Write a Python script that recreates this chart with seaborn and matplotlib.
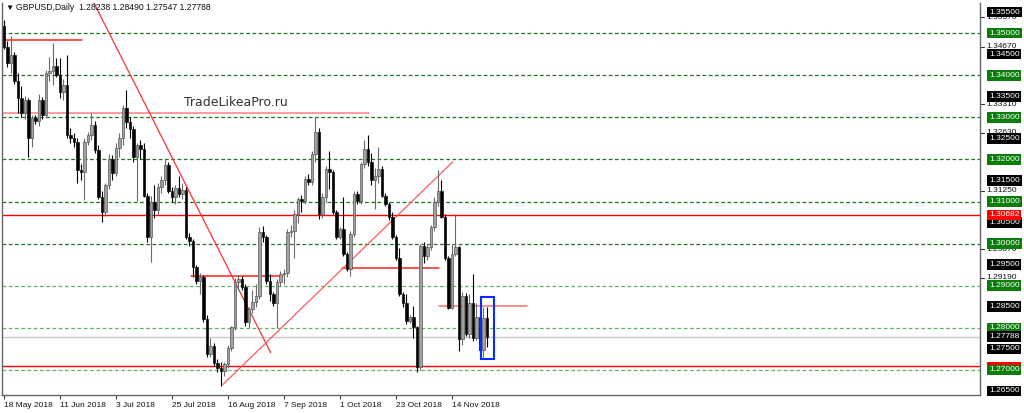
import matplotlib
matplotlib.use('Agg')
import numpy as np
import pandas as pd
import matplotlib.pyplot as plt
import seaborn as sns
from matplotlib.patches import Rectangle
from matplotlib.transforms import blended_transform_factory

sns.set_theme(style='white')
plt.rcParams['font.family'] = ['Liberation Sans', 'DejaVu Sans']

# GBPUSD daily candles (18 May 2018 onwards, weekdays)
opens = [1.3516, 1.3468, 1.3430, 1.3448, 1.3385, 1.3345, 1.3310, 1.3340, 1.3250, 1.3298,
         1.3292, 1.3340, 1.3305, 1.3405, 1.3409, 1.3421, 1.3401, 1.3360, 1.3377, 1.3258,
         1.3250, 1.3242, 1.3175, 1.3171, 1.3242, 1.3258, 1.3282, 1.3222, 1.3111, 1.3075,
         1.3139, 1.3200, 1.3168, 1.3226, 1.3250, 1.3321, 1.3289, 1.3273, 1.3205, 1.3233,
         1.3225, 1.3114, 1.3015, 1.3100, 1.3079, 1.3134, 1.3150, 1.3186, 1.3126, 1.3110,
         1.3132, 1.3118, 1.3128, 1.3015, 1.3007, 1.2944, 1.2912, 1.2920, 1.2821, 1.2737,
         1.2757, 1.2717, 1.2705, 1.2698, 1.2713, 1.2753, 1.2801, 1.2908, 1.2915, 1.2897,
         1.2813, 1.2845, 1.2862, 1.2875, 1.3027, 1.3015, 1.2912, 1.2880, 1.2860, 1.2908,
         1.2928, 1.2930, 1.3027, 1.3031, 1.3071, 1.3106, 1.3102, 1.3154, 1.3146, 1.3213,
         1.3265, 1.3071, 1.3110, 1.3178, 1.3170, 1.3075, 1.3015, 1.3035, 1.2975, 1.2940,
         1.3023, 1.3118, 1.3102, 1.3190, 1.3225, 1.3194, 1.3150, 1.3160, 1.3178, 1.3114,
         1.3094, 1.3063, 1.3015, 1.2967, 1.2880, 1.2860, 1.2817, 1.2825, 1.2801, 1.2706,
         1.2995, 1.2970, 1.2991, 1.3039, 1.3100, 1.3126, 1.3063, 1.2967, 1.2848, 1.2975,
         1.2991, 1.2773, 1.2876, 1.2785, 1.2860, 1.2777, 1.2826, 1.2747, 1.28238]
highs = [1.3530, 1.3482, 1.3492, 1.3455, 1.3405, 1.3375, 1.3350, 1.3345, 1.3305, 1.3305,
         1.3355, 1.3348, 1.3413, 1.3444, 1.3476, 1.3440, 1.3440, 1.3390, 1.3448, 1.3275,
         1.3262, 1.3250, 1.3190, 1.3250, 1.3265, 1.3310, 1.3290, 1.3235, 1.3125, 1.3145,
         1.3212, 1.3210, 1.3240, 1.3262, 1.3330, 1.3364, 1.3300, 1.3280, 1.3240, 1.3245,
         1.3240, 1.3120, 1.3112, 1.3140, 1.3145, 1.3160, 1.3202, 1.3195, 1.3135, 1.3140,
         1.3160, 1.3145, 1.3135, 1.3025, 1.3012, 1.2950, 1.2930, 1.2925, 1.2830, 1.2777,
         1.2765, 1.2725, 1.2718, 1.2720, 1.2760, 1.2805, 1.2918, 1.2925, 1.2922, 1.2905,
         1.2850, 1.2890, 1.2905, 1.3039, 1.3043, 1.3020, 1.2928, 1.2885, 1.2915, 1.2935,
         1.2940, 1.3035, 1.3045, 1.3080, 1.3110, 1.3115, 1.3160, 1.3165, 1.3220, 1.3301,
         1.3275, 1.3120, 1.3185, 1.3221, 1.3175, 1.3080, 1.3040, 1.3110, 1.2980, 1.3030,
         1.3125, 1.3125, 1.3195, 1.3245, 1.3257, 1.3215, 1.3180, 1.3229, 1.3185, 1.3120,
         1.3100, 1.3075, 1.3020, 1.2990, 1.2885, 1.2880, 1.2830, 1.2852, 1.2805, 1.3000,
         1.3005, 1.3000, 1.3045, 1.3110, 1.3174, 1.3150, 1.3070, 1.2970, 1.2999, 1.3071,
         1.2995, 1.2885, 1.2882, 1.2880, 1.2928, 1.2860, 1.2835, 1.2850, 1.28490]
lows = [1.3462, 1.3420, 1.3405, 1.3378, 1.3310, 1.3300, 1.3295, 1.3205, 1.3230, 1.3285,
        1.3280, 1.3295, 1.3300, 1.3385, 1.3377, 1.3395, 1.3345, 1.3340, 1.3250, 1.3240,
        1.3230, 1.3143, 1.3150, 1.3103, 1.3235, 1.3245, 1.3215, 1.3105, 1.3052, 1.3065,
        1.3130, 1.3150, 1.3160, 1.3205, 1.3235, 1.3275, 1.3250, 1.3195, 1.3102, 1.3200,
        1.3110, 1.3005, 1.2956, 1.3060, 1.3070, 1.3120, 1.3140, 1.3120, 1.3100, 1.3095,
        1.3110, 1.3105, 1.3010, 1.2995, 1.2920, 1.2905, 1.2880, 1.2815, 1.2730, 1.2730,
        1.2710, 1.2695, 1.2662, 1.2685, 1.2705, 1.2745, 1.2795, 1.2890, 1.2890, 1.2805,
        1.2800, 1.2835, 1.2850, 1.2868, 1.3005, 1.2905, 1.2864, 1.2852, 1.2800, 1.2900,
        1.2905, 1.2920, 1.3015, 1.2967, 1.3050, 1.3075, 1.3095, 1.3140, 1.3140, 1.3195,
        1.3059, 1.3060, 1.3100, 1.3130, 1.3070, 1.3010, 1.3010, 1.2970, 1.2935, 1.2924,
        1.3015, 1.3095, 1.3095, 1.3180, 1.3185, 1.3140, 1.3083, 1.3145, 1.3110, 1.3090,
        1.3055, 1.3010, 1.2960, 1.2875, 1.2850, 1.2810, 1.2812, 1.2777, 1.2694, 1.2700,
        1.2955, 1.2960, 1.2985, 1.3030, 1.3090, 1.3060, 1.2960, 1.2845, 1.2845, 1.2970,
        1.2745, 1.2760, 1.2780, 1.2775, 1.2768, 1.2770, 1.2740, 1.2731, 1.27547]
closes = [1.3468, 1.3430, 1.3448, 1.3385, 1.3345, 1.3310, 1.3340, 1.3250, 1.3298, 1.3292,
          1.3340, 1.3305, 1.3405, 1.3409, 1.3421, 1.3401, 1.3360, 1.3377, 1.3258, 1.3250,
          1.3242, 1.3175, 1.3171, 1.3242, 1.3258, 1.3282, 1.3222, 1.3111, 1.3075, 1.3139,
          1.3200, 1.3168, 1.3226, 1.3250, 1.3321, 1.3289, 1.3273, 1.3205, 1.3233, 1.3225,
          1.3114, 1.3015, 1.3100, 1.3079, 1.3134, 1.3150, 1.3186, 1.3126, 1.3110, 1.3132,
          1.3118, 1.3128, 1.3015, 1.3007, 1.2944, 1.2912, 1.2920, 1.2821, 1.2737, 1.2757,
          1.2717, 1.2705, 1.2698, 1.2713, 1.2753, 1.2801, 1.2908, 1.2915, 1.2897, 1.2813,
          1.2845, 1.2862, 1.2875, 1.3027, 1.3015, 1.2912, 1.2880, 1.2860, 1.2908, 1.2928,
          1.2930, 1.3027, 1.3031, 1.3071, 1.3106, 1.3102, 1.3154, 1.3146, 1.3213, 1.3265,
          1.3071, 1.3110, 1.3178, 1.3170, 1.3075, 1.3015, 1.3035, 1.2975, 1.2940, 1.3023,
          1.3118, 1.3102, 1.3190, 1.3225, 1.3194, 1.3150, 1.3160, 1.3178, 1.3114, 1.3094,
          1.3063, 1.3015, 1.2967, 1.2880, 1.2860, 1.2817, 1.2825, 1.2801, 1.2706, 1.2995,
          1.2970, 1.2991, 1.3039, 1.3100, 1.3126, 1.3063, 1.2967, 1.2848, 1.2975, 1.2991,
          1.2773, 1.2876, 1.2785, 1.2860, 1.2777, 1.2826, 1.2747, 1.2824, 1.27788]

date_labels = ['18 May 2018', '11 Jun 2018', '3 Jul 2018', '25 Jul 2018', '16 Aug 2018',
               '7 Sep 2018', '1 Oct 2018', '23 Oct 2018', '14 Nov 2018']

# horizontal levels / objects drawn on the chart
green_levels = [1.35, 1.34, 1.33, 1.32, 1.31, 1.30, 1.29, 1.28, 1.27]
red_levels = [1.30682, 1.2709]
current_price = 1.27788
# (start bar, end bar, price, colour) short horizontal lines
red_segments = [(-0.3, 22.3, 1.3484, '#ff2020'),
                (-0.3, 104.3, 1.3309, '#ff8080'),
                (53.4, 79.7, 1.2922, '#ff2020'),
                (96.6, 124.3, 1.2943, '#ff2020'),
                (124.3, 149.4, 1.2852, '#ff7070')]
trend_down = (25.3, 1.3578, 76.2, 1.2741)
trend_up = (62.5, 1.2665, 128.2, 1.3194)

box_black = [1.355, 1.345, 1.335, 1.325, 1.315, 1.305, 1.295, 1.285, 1.275, 1.265]
scale_marks = [1.3537, 1.3467, 1.3331, 1.3263, 1.3125, 1.2987, 1.2919]

df = pd.DataFrame({'open': opens, 'high': highs, 'low': lows, 'close': closes})
dates = pd.bdate_range('2018-05-18', periods=len(df))
df['bar'] = np.arange(len(df))
up = df['close'] >= df['open']

fig = plt.figure(figsize=(10.24, 4.13), dpi=100)
ax = fig.add_axes([2 / 1024, 18 / 413, 978 / 1024, 392 / 413])

# levels
for lv in green_levels:
    col = '#1f751f' if lv >= 1.30 else '#62b562'
    ax.axhline(lv, color=col, lw=0.9, ls=(0, (3, 2)), zorder=1)
ax.axhline(current_price, color='#c8c8c8', lw=1.0, zorder=1)
for lv in red_levels:
    ax.axhline(lv, color='#ff0000', lw=1.0, zorder=2)

for x0, x1, p, c in red_segments:
    ax.plot([x0, x1], [p, p], color=c, lw=1.1, zorder=2)
ax.plot(trend_down[::2], trend_down[1::2], color='#ff3030', lw=0.9, zorder=2)
ax.plot(trend_up[::2], trend_up[1::2], color='#ff5a5a', lw=0.9, zorder=2)

# candles
wick_col = np.where(up, '#6a6a6a', '#000000')
ax.vlines(df['bar'], df['low'], df['high'], colors=wick_col, lw=0.8, zorder=3)
body_lo = np.minimum(df['open'], df['close'])
body_h = (df['close'] - df['open']).abs().clip(lower=0.00008)
ax.bar(df['bar'], body_h, bottom=body_lo, width=0.72,
       color=np.where(up, '#a2a2a2', '#000000'),
       edgecolor=np.where(up, '#4a4a4a', '#000000'), linewidth=0.45, zorder=4)

ax.add_patch(Rectangle((136.3, 1.2725), 3.6, 0.0148, fill=False,
                       ec='#0a2cff', lw=1.5, zorder=5))

ax.set_xlim(-0.571, 278.86)
ax.set_ylim(1.26405, 1.35714)

# x axis
tick_pos = [dates.get_loc(pd.Timestamp(lbl)) for lbl in date_labels]
ax.set_xticks(tick_pos)
ax.set_xticklabels(date_labels, ha='left', fontsize=6, color='#111111')
ax.tick_params(axis='x', direction='out', length=3, width=0.8, colors='#444444',
               labelcolor='#111111', pad=2, bottom=True)
ax.set_yticks([])
ax.grid(False)
for side in ['left', 'bottom', 'right']:
    ax.spines[side].set_color('#666666')
    ax.spines[side].set_linewidth(1.0)
ax.spines['top'].set_visible(False)

# price scale on the right
tr = blended_transform_factory(fig.transFigure, ax.transData)
for v in scale_marks:
    ax.plot([980 / 1024, 984 / 1024], [v, v], transform=tr, clip_on=False,
            color='#333333', lw=0.8)
    ax.text(986 / 1024, v, f'{v:.5f}', transform=tr, fontsize=6, color='#111111',
            va='center', ha='left', clip_on=False)

def price_box(v, fc, txt=None, tc='white'):
    ax.text(989 / 1024, v, txt or f'{v:.5f}', transform=tr, fontsize=6, color=tc,
            va='center', ha='left', clip_on=False,
            bbox=dict(boxstyle='square,pad=0.22', fc=fc, ec='none'))

for v in box_black:
    price_box(v, 'black')
# red level label mostly hidden behind the 1.27000 box: only a sliver shows
ax.add_patch(Rectangle((987 / 1024, red_levels[1] - 0.00107), 34 / 1024, 0.00214,
                       transform=tr, clip_on=False, fc='#ff0000', ec='none', zorder=1))
for v in green_levels:
    price_box(v, '#0a7d0a')
price_box(red_levels[0], '#ff0000')
price_box(current_price, 'black')

# header and watermark
fig.text(5 / 1024, 1 - 8 / 413, '\u25bc', fontsize=6, va='center', color='#111111')
fig.text(16 / 1024, 1 - 8 / 413, 'GBPUSD,Daily  1.28238 1.28490 1.27547 1.27788',
         fontsize=6.2, va='center', color='#111111')
fig.text(184 / 1024, 1 - 103 / 413, 'TradeLikeaPro.ru', fontsize=9,
         family=['DejaVu Sans'], va='center', color='#333333')

fig.savefig('out.png', dpi=100)
